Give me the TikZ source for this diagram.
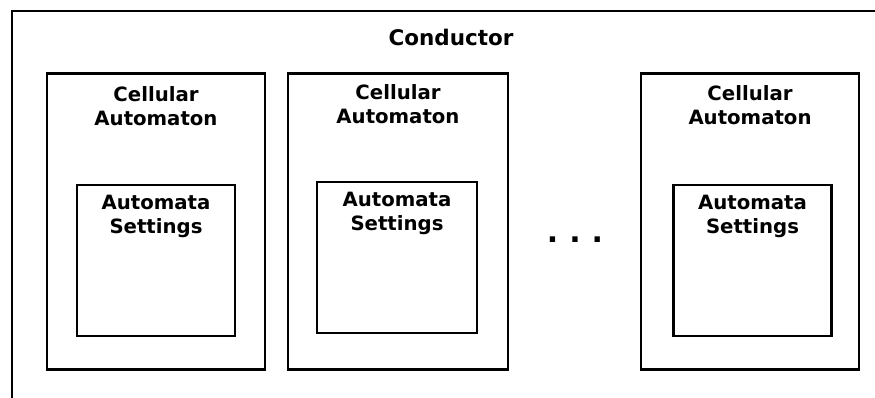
\documentclass[tikz,border=0pt]{standalone}
\usepackage{fontspec}
\setmainfont{DejaVu Sans}
\tikzset{
    cabox/.style={draw,line width=2.8pt,minimum width=218pt,minimum height=296pt,inner sep=0pt},
    setbox/.style={draw,line width=2.8pt,minimum width=158pt,minimum height=151pt,inner sep=0pt},
    boxtext/.style={anchor=north,align=center,inner sep=0pt,font=\fontsize{19.7}{24}\selectfont\bfseries},
}
\begin{document}
\begin{tikzpicture}[x=1pt,y=-1pt]
            \clip (0,0) rectangle (875,397);
            \useasboundingbox (0,0) rectangle (875,397);
            \draw[line width=2.8pt] (12,400) -- (12,11) -- (880,11);
            \node[anchor=center,inner sep=0pt,font=\fontsize{21.5}{26}\selectfont\bfseries] (cond) at (451,37) {Conductor};

            % the automata, each with its settings
            \node[cabox] (ca1) at (156,221.5) {};
            \node[cabox,minimum width=220pt] (ca2) at (398,221.5) {};
            \node[cabox] (ca3) at (750,221.5) {};

            \node[setbox] (set1) at (156,260.5) {};
            \node[setbox,minimum width=160pt] (set2) at (397,257.5) {};
            \node[setbox] (set3) at (752.5,260.5) {};

            \node[boxtext] (catext1) at ([yshift=-14pt]ca1.north) {Cellular\\Automaton};
            \node[boxtext] (catext2) at ([yshift=-12pt]ca2.north) {Cellular\\Automaton};
            \node[boxtext] (catext3) at ([yshift=-13pt]ca3.north) {Cellular\\Automaton};

            \node[boxtext] (settext1) at ([yshift=-11pt]set1.north) {Automata\\Settings};
            \node[boxtext] (settext2) at ([yshift=-11pt]set2.north) {Automata\\Settings};
            \node[boxtext] (settext3) at ([yshift=-11pt]set3.north) {Automata\\Settings};

            \node[inner sep=0pt,font=\fontsize{30}{30}\selectfont\bfseries] (dots) at (575,240) {.\hspace{11pt}.\hspace{11pt}.};
        \end{tikzpicture}
\end{document}
